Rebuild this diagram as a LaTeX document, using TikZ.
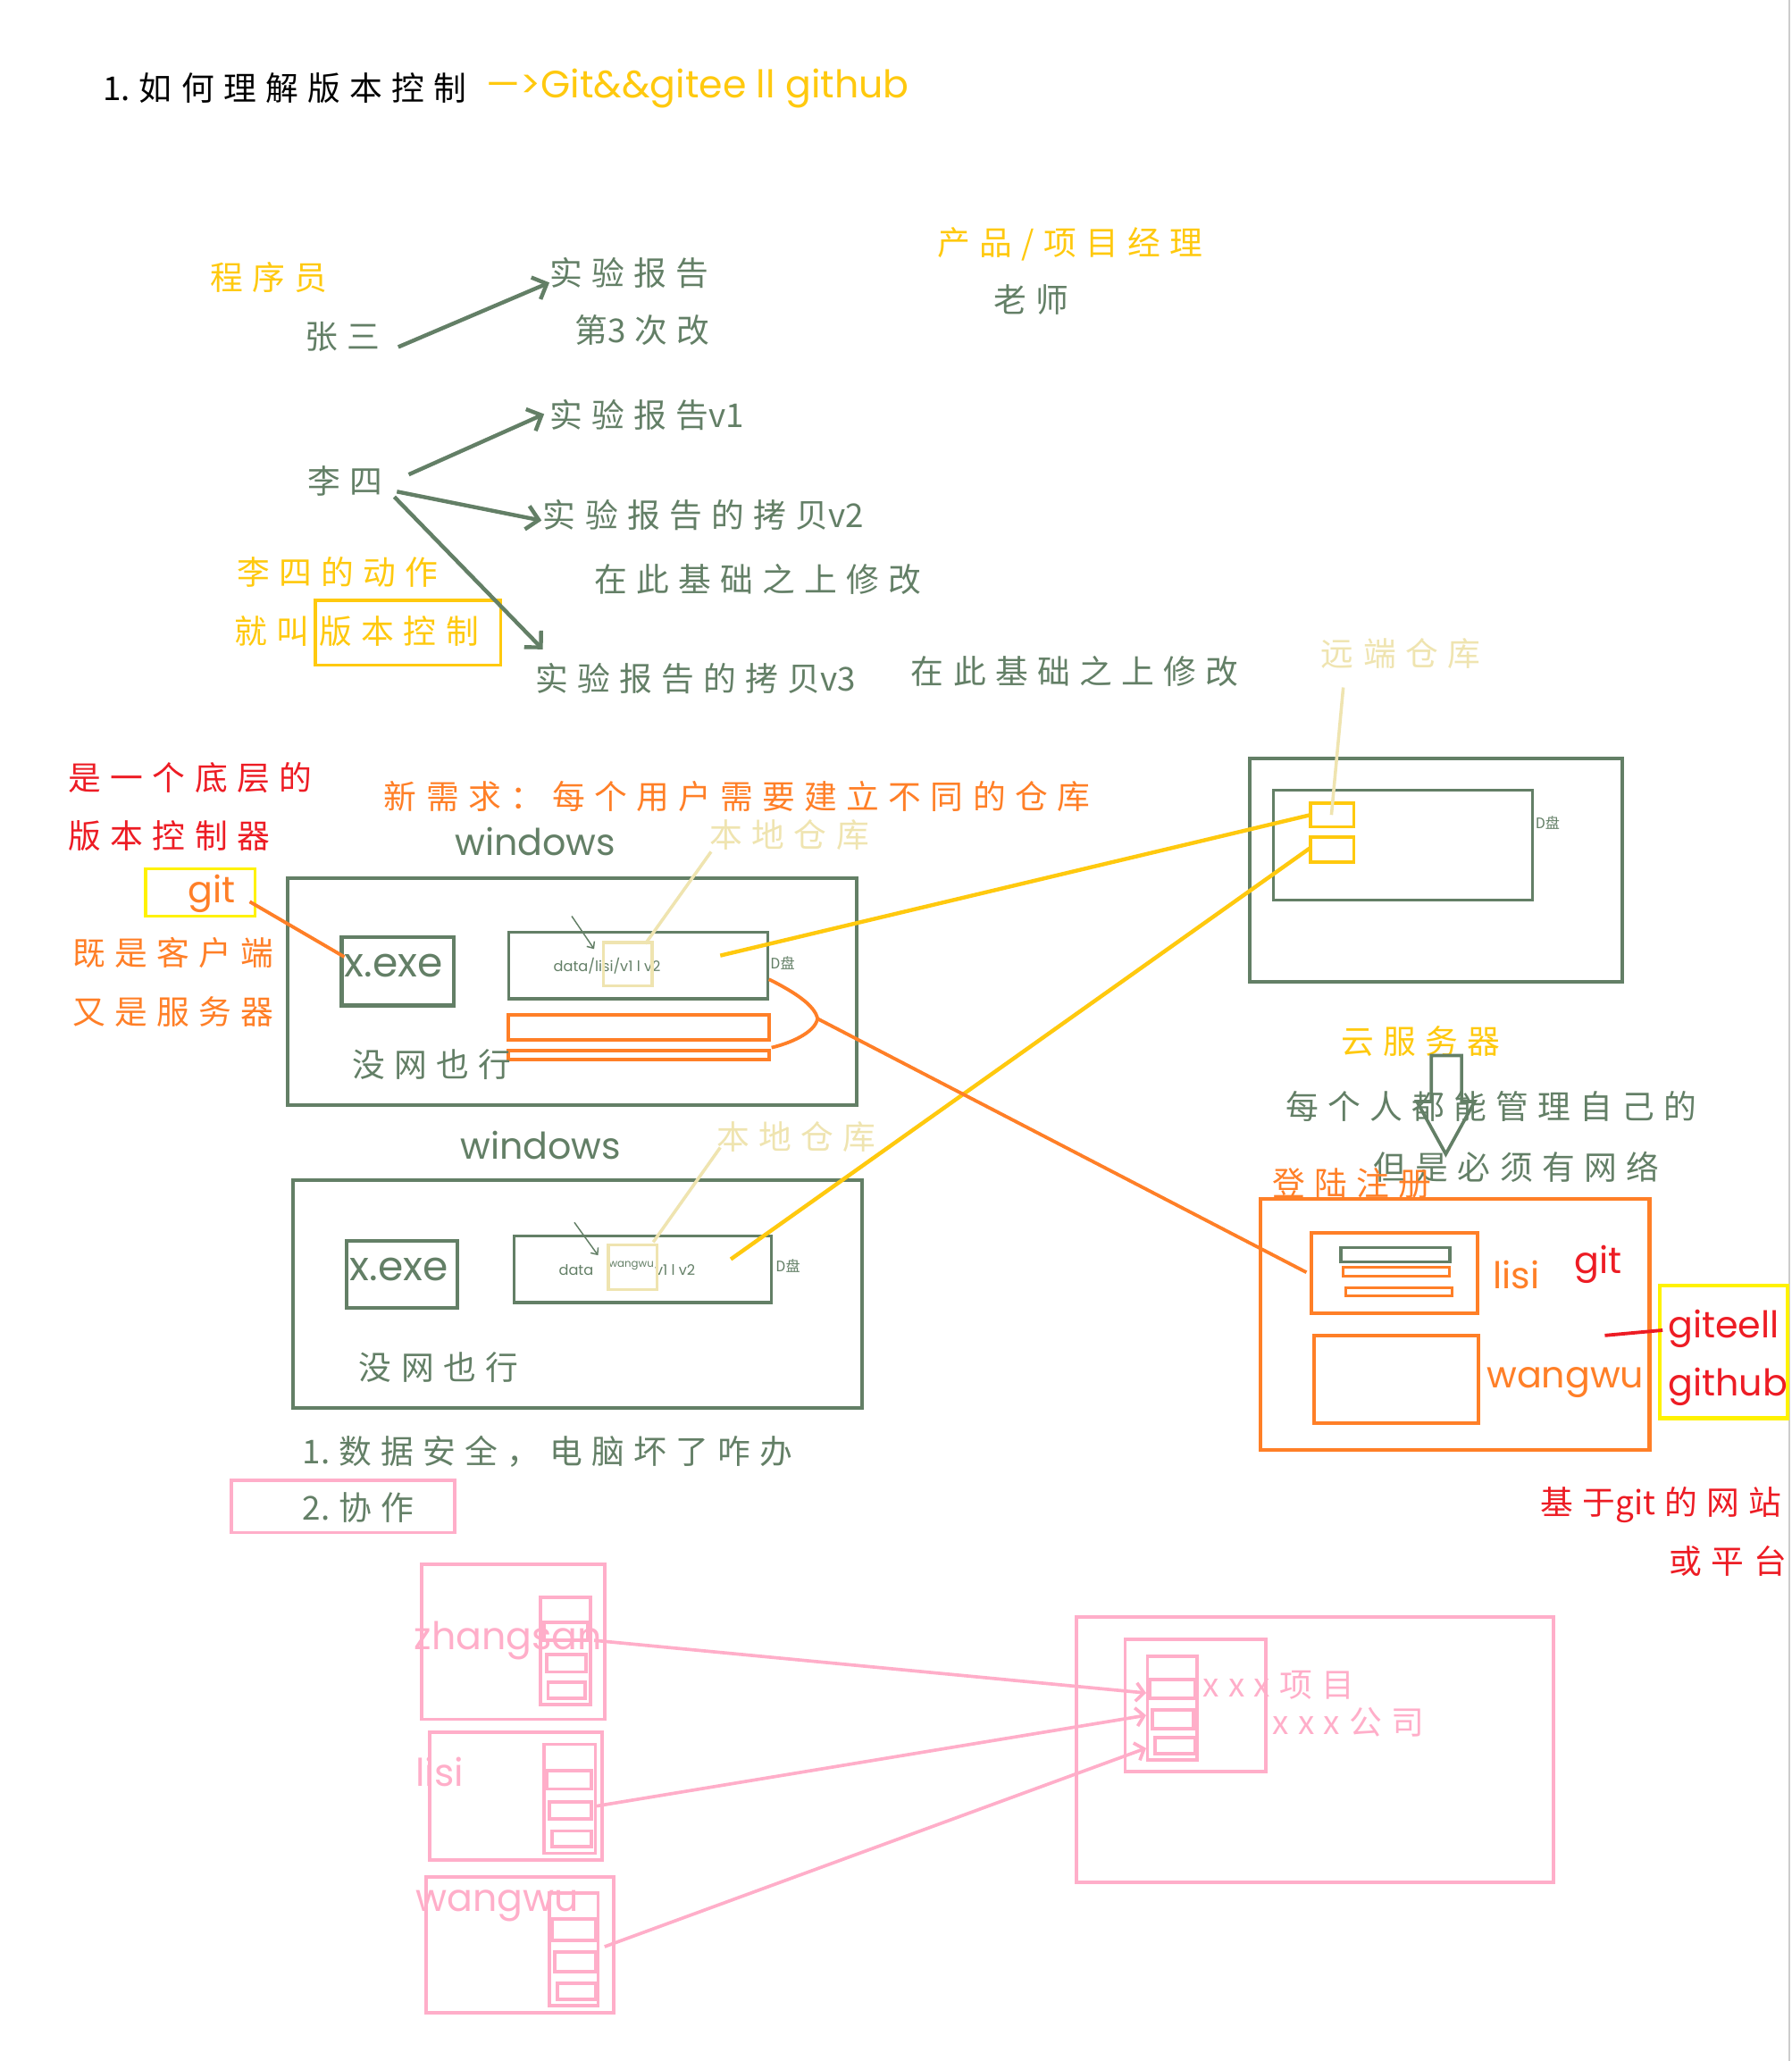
\documentclass[tikz,border=0pt]{standalone}
\usepackage{fontspec}
\usetikzlibrary{arrows.meta}
\setmainfont{Noto Sans CJK SC}
\newfontfamily\hzf{Noto Sans CJK SC}[LetterSpace=28]
\newfontfamily\hzn{Noto Sans CJK SC}
\newfontfamily\latf{Poppins}
\newcommand\tl[1]{{\hzn #1}\hspace{7pt}}
\definecolor{gr}{HTML}{637F66}
\definecolor{yl}{HTML}{FFC90E}
\definecolor{by}{HTML}{FFF200}
\definecolor{og}{HTML}{FF7F27}
\definecolor{rd}{HTML}{ED1C24}
\definecolor{bg}{HTML}{EFE4B0}
\definecolor{pk}{HTML}{FFAEC9}
\tikzset{
  tx/.style={anchor=west, inner sep=0pt, font=\hzf\fontsize{25}{25}\selectfont},
  la/.style={anchor=west, inner sep=0pt, font=\latf\fontsize{#1}{#1}\selectfont},
  la/.default=27,
  sm/.style={anchor=west, inner sep=0pt, font=\latf\fontsize{11}{11}\selectfont},
  dsk/.style={anchor=west, inner sep=0pt, font=\fontsize{11}{11}\selectfont},
  gbox/.style={draw=gr, line width=2.8pt},
  gthin/.style={draw=gr, line width=2pt},
  obox/.style={draw=og, line width=2.8pt},
  pbox/.style={draw=pk, line width=2.6pt},
  garr/.style={draw=gr, line width=3pt, -{Straight Barb[length=9pt,width=18pt]}},
  parr/.style={draw=pk, line width=2.5pt, -{Straight Barb[length=6pt,width=14pt]}},
}
\begin{document}
\begin{tikzpicture}[x=1pt,y=-1pt]
\useasboundingbox (0,0) rectangle (1363,1568);
\fill[white] (0,0) rectangle (1363,1568);
\draw[gray!40, line width=1pt] (1361.5,0) -- (1361.5,1568);

% title
\node[tx, text=black] (t1) at (78,67) {\tl{1.}如何理解版本控制};
\node[la=29, text=yl] (t2) at (370,67) {—>Git\&\&gitee ll github};

% top part
\node[tx, text=yl] (cxy) at (160,211) {程序员};
\node[tx, text=gr] (zs) at (232,256) {张三};
\node[tx, text=gr] (sy) at (418,208) {实验报告};
\node[tx, text=gr] (d3) at (437,251) {第\tl{3}次改};
\node[tx, text=yl] (pm) at (713,186) {产品/项目经理};
\node[tx, text=gr] (ls) at (756,228) {老师};
\node[tx, text=gr] (li) at (234,366) {李四};
\node[tx, text=gr] (v1) at (418,316) {实验报告{\hzn v1}};
\node[tx, text=gr] (v2) at (413,392) {实验报告的拷贝{\hzn v2}};
\node[tx, text=gr] (m1) at (452,441) {在此基础之上修改};
\node[tx, text=gr] (v3) at (407,516) {实验报告的拷贝{\hzn v3}};
\node[tx, text=gr] (m2) at (693,511) {在此基础之上修改};
\node[tx, text=yl] (dz) at (180,435) {李四的动作};
\node[tx, text=yl] (jj) at (178,480) {就叫};
\node[tx, text=yl] (bb) at (243,480) {版本控制};
\draw[draw=yl, line width=2.6pt] (240,457) rectangle (381,506);

\coordinate (zsE) at (303,264);
\coordinate (syW) at (418,215);
\coordinate (liE1) at (311,361);
\coordinate (v1W) at (414,315);
\coordinate (liE2) at (302,374);
\coordinate (v2W) at (412,396);
\coordinate (liE3) at (300,378);
\coordinate (v3N) at (413,494);
\draw[garr] (zsE) -- (syW);
\draw[garr] (liE1) -- (v1W);
\draw[garr] (liE2) -- (v2W);
\draw[garr] (liE3) -- (v3N);

% left labels
\node[tx, text=rd] (r1) at (52,592) {是一个底层的};
\node[tx, text=rd] (r2) at (52,636) {版本控制器};
\draw[draw=by, line width=2.6pt] (111,661) rectangle (194,697);
\node[la=28, text=og] (gitL) at (143,680) {git};
\node[tx, text=og] (o1) at (55,725) {既是客户端};
\node[tx, text=og] (o2) at (55,770) {又是服务器};
\node[tx, text=og] (xq) at (292,606) {新需求：每个用户需要建立不同的仓库};

% windows 1
\node[la=28, text=gr] (w1) at (346,640) {windows};
\node[tx, text=bg] (bd1) at (540,635) {本地仓库};
\draw[gbox] (219,668) rectangle (652,841);
\draw[gbox] (260,713) rectangle (345,765);
\node[la=31, text=gr] (x1) at (262,735) {x.exe};
\draw[gthin] (387,709) rectangle (584,760);
\draw[draw=gr, line width=3pt] (387,760) -- (584,760);
\node[sm, text=gr] (dt1) at (421,735) {data/lisi/v1 l v2};
\draw[draw=bg, line width=2.4pt] (459,717) rectangle (496,750);
\node[dsk, text=gr] (dp1) at (586,733) {D盘};
\draw[draw=gr, line width=1pt, -{Straight Barb[length=4pt,width=7pt]}] (435,697) -- (452,722);
\draw[obox] (387,772) rectangle (585,791);
\draw[obox] (387,799) rectangle (585,806);
\node[tx, text=gr] (mw1) at (268,810) {没网也行};
\coordinate (bd1S) at (541,648);
\coordinate (bx1) at (491,718);
\draw[draw=bg, line width=2.4pt] (bd1S) -- (bx1);

% windows 2
\node[la=28, text=gr] (w2) at (350,871) {windows};
\node[tx, text=bg] (bd2) at (545,865) {本地仓库};
\draw[gbox] (223,898) rectangle (656,1071);
\draw[gbox] (264,944) rectangle (348,995);
\node[la=31, text=gr] (x2) at (266,966) {x.exe};
\draw[gthin] (391,940) rectangle (587,991);
\draw[draw=gr, line width=3pt] (391,991) -- (587,991);
\node[sm, text=gr] (dt2a) at (425,966) {data};
\node[anchor=west, inner sep=0pt, text=gr, font=\latf\fontsize{8}{8}\selectfont] (dt2b) at (463,963) {wangwu};
\node[sm, text=gr] (dt2c) at (498,966) {v1 l v2};
\draw[draw=bg, line width=2.4pt] (463,947) rectangle (500,981);
\node[dsk, text=gr] (dp2) at (590,963) {D盘};
\draw[draw=gr, line width=1pt, -{Straight Barb[length=4pt,width=7pt]}] (437,930) -- (455,955);
\node[tx, text=gr] (mw2) at (273,1040) {没网也行};
\coordinate (bd2S) at (548,873);
\coordinate (bx2) at (497,945);
\draw[draw=bg, line width=2.4pt] (bd2S) -- (bx2);

% remote
\node[tx, text=bg] (yd) at (1005,497) {远端仓库};
\draw[gbox] (951,577) rectangle (1234,747);
\draw[gthin] (969,601) rectangle (1166,685);
\node[dsk, text=gr] (dp3) at (1168,626) {D盘};
\draw[draw=yl, line width=2.6pt] (997,611) rectangle (1030,629);
\draw[draw=yl, line width=2.6pt] (997,637) rectangle (1030,656);
\coordinate (ydS) at (1022,523);
\coordinate (rb1) at (1013,620);
\draw[draw=bg, line width=2.4pt] (ydS) -- (rb1);
\coordinate (dt1E) at (548,727);
\coordinate (rb1W) at (997,620);
\coordinate (dt2E) at (556,958);
\coordinate (rb2W) at (997,645);
\draw[draw=yl, line width=3pt] (dt1E) -- (rb1W);
\draw[draw=yl, line width=3pt] (dt2E) -- (rb2W);

% orange connections
\coordinate (gitE) at (190,686);
\coordinate (x1W) at (262,728);
\draw[draw=og, line width=2.6pt] (gitE) -- (x1W);
\coordinate (brT) at (585,745);
\coordinate (brM) at (622,775);
\coordinate (brB) at (587,797);
\coordinate (lisiW) at (994,968);
\draw[draw=og, line width=2.6pt] (brT) .. controls (605,755) and (620,765) .. (brM) .. controls (620,786) and (600,794) .. (brB);
\draw[draw=og, line width=2.6pt] (brM) -- (lisiW);

% cloud server
\node[tx, text=yl] (yfw) at (1020,792) {云服务器};
\node[tx, text=gr] (mgr) at (978,842) {每个人都能管理自己的};
\node[tx, text=gr] (bx) at (1045,888) {但是必须有网络};
\draw[draw=gr, line width=2.5pt] (1089,803) -- (1112,803) -- (1112,838) -- (1122,838) -- (1100,878) -- (1078,838) -- (1089,838) -- cycle;
\node[tx, text=og] (dl) at (968,900) {登陆注册};
\draw[obox] (959,912) rectangle (1255,1103);
\draw[obox] (998,938) rectangle (1124,999);
\draw[draw=gr, line width=2.4pt] (1020,949) rectangle (1103,960);
\draw[draw=og, line width=2pt] (1022,964) rectangle (1103,971);
\draw[draw=og, line width=2pt] (1024,980) rectangle (1105,986);
\node[la=28, text=og] (lisiT) at (1136,970) {lisi};
\node[la=28, text=rd] (gitR) at (1198,962) {git};
\draw[obox] (1000,1016) rectangle (1125,1083);
\node[la=28, text=og] (wwT) at (1131,1052) {wangwu};
\draw[draw=by, line width=2.8pt] (1263,978) rectangle (1360,1079);
\node[la=28, text=rd] (gte) at (1269,1011) {giteell};
\node[la=28, text=rd] (ghb) at (1269,1055) {github};
\coordinate (rlA) at (1221,1016);
\coordinate (rlB) at (1265,1012);
\draw[draw=rd, line width=2.6pt] (rlA) -- (rlB);
\node[tx, text=rd] (jy) at (1172,1145) {基于\tl{git}的网站};
\node[tx, text=rd] (hp) at (1270,1188) {或平台};

% bottom
\node[tx, text=gr] (q1) at (230,1104) {\tl{1.}数据安全，电脑坏了咋办};
\node[tx, text=gr] (q2) at (230,1147) {\tl{2.}协作};
\draw[pbox] (176,1126) rectangle (346,1166);

% pink users
\draw[pbox] (321,1190) rectangle (460,1308);
\draw[pbox] (411,1215) rectangle (449,1297);
\draw[pbox] (414,1234) rectangle (447,1248);
\draw[pbox] (416,1259) rectangle (446,1272);
\draw[pbox] (417,1280) rectangle (445,1292);
\node[la=29, text=pk] (zsT) at (315,1248) {zhangsan};

\draw[pbox] (327,1318) rectangle (458,1415);
\draw[pbox] (414,1327) rectangle (453,1410);
\draw[pbox] (416,1347) rectangle (450,1361);
\draw[pbox] (418,1371) rectangle (450,1384);
\draw[pbox] (420,1393) rectangle (450,1405);
\node[la=29, text=pk] (lsT) at (316,1348) {lisi};

\draw[pbox] (324,1428) rectangle (467,1531);
\draw[pbox] (418,1440) rectangle (455,1526);
\draw[pbox] (420,1460) rectangle (453,1476);
\draw[pbox] (422,1485) rectangle (453,1500);
\draw[pbox] (424,1509) rectangle (453,1521);
\node[la=29, text=pk] (wwP) at (316,1450) {wangwu};

% pink company
\draw[pbox] (819,1230) rectangle (1182,1432);
\draw[pbox] (856,1247) rectangle (963,1348);
\draw[pbox] (873,1260) rectangle (911,1339);
\draw[pbox] (875,1278) rectangle (909,1292);
\draw[pbox] (877,1301) rectangle (908,1315);
\draw[pbox] (879,1322) rectangle (909,1334);
\node[tx, text=pk] (xm) at (915,1282) {xxx项目};
\node[tx, text=pk] (gs) at (968,1310) {xxx公司};

\coordinate (zsR) at (452,1248);
\coordinate (lsR) at (454,1374);
\coordinate (wwR) at (460,1481);
\coordinate (rp1) at (872,1288);
\coordinate (rp2) at (872,1305);
\coordinate (rp3) at (872,1330);
\draw[parr] (zsR) -- (rp1);
\draw[parr] (lsR) -- (rp2);
\draw[parr] (wwR) -- (rp3);
\end{tikzpicture}
\end{document}
